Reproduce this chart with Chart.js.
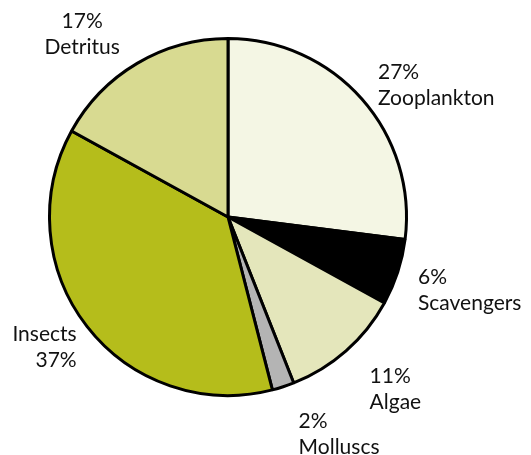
<!DOCTYPE html>
<html>
<head>
<meta charset="utf-8">
<script src="https://cdn.jsdelivr.net/npm/chart.js@4.4.1/dist/chart.umd.min.js"></script>
<style>
  body { margin: 0; background: #fff; }
  #wrap { width: 531px; height: 455px; }
</style>
</head>
<body>
<div id="wrap"><canvas id="pie"></canvas></div>
<script>
// ข้อมูลของกราฟ
const categories = ['Zooplankton', 'Scavengers', 'Algae', 'Molluscs', 'Insects', 'Detritus'];
const percents = [27, 6, 11, 2, 37, 17];
const sliceColors = ['#f4f6e4', '#000000', '#e4e6bb', '#b4b4b4', '#b5bd1b', '#d8da91'];

// ตำแหน่งป้าย: ระยะจากศูนย์กลาง (เท่าของรัศมี), เลื่อนมุม (องศา), การจัดแนว
const labelDist = [1.12, 1.14, 1.25, 1.28, 1.12, 1.31];
const labelShift = [0, 3, 2, 0, -3, -8];
const labelAlign = ['left', 'left', 'left', 'left', 'right', 'center'];
const percentFirst = [true, true, true, true, false, true];

const labelPlugin = {
  id: 'outsideLabels',
  afterDatasetsDraw(chart) {
    const ctx = chart.ctx;
    const meta = chart.getDatasetMeta(0);
    ctx.save();
    ctx.font = '21px Lato, "Open Sans", sans-serif';
    ctx.fillStyle = '#111';
    ctx.textBaseline = 'middle';
    meta.data.forEach((arc, i) => {
      const mid = (arc.startAngle + arc.endAngle) / 2 + labelShift[i] * Math.PI / 180;
      const r = arc.outerRadius * labelDist[i];
      const x = arc.x + Math.cos(mid) * r;
      const y = arc.y + Math.sin(mid) * r;
      const pct = percents[i] + '%';
      const lines = percentFirst[i] ? [pct, categories[i]] : [categories[i], pct];
      ctx.textAlign = labelAlign[i];
      ctx.fillText(lines[0], x, y - 13);
      ctx.fillText(lines[1], x, y + 13);
    });
    ctx.restore();
  }
};

new Chart(document.getElementById('pie'), {
  type: 'pie',
  data: {
    labels: categories,
    datasets: [{
      data: percents,
      backgroundColor: sliceColors,
      borderColor: '#000',
      borderWidth: 3
    }]
  },
  options: {
    responsive: true,
    maintainAspectRatio: false,
    animation: false,
    layout: { padding: { left: 48, right: 123, top: 37, bottom: 58 } },
    plugins: {
      legend: { display: false },
      tooltip: { enabled: false }
    }
  },
  plugins: [labelPlugin]
});
</script>
</body>
</html>
